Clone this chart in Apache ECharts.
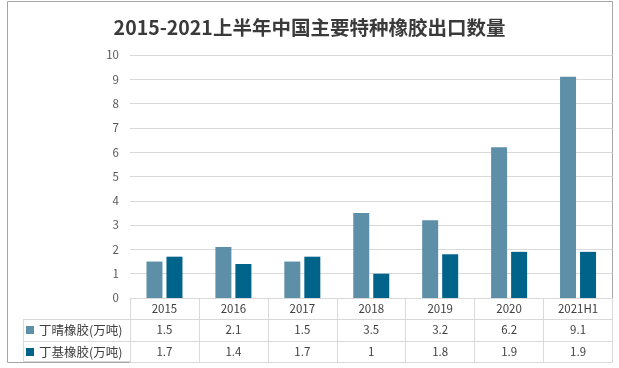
<!DOCTYPE html>
<html>
<head>
<meta charset="utf-8">
<script src="https://cdn.jsdelivr.net/npm/echarts@6/dist/echarts.min.js"></script>
<style>html,body{margin:0;padding:0;background:#fff;}#c{width:619px;height:368px;}</style>
</head>
<body>
<div id="c"></div>
<script>
var titleText = '2015-2021上半年中国主要特种橡胶出口数量';
var categories = ['2015','2016','2017','2018','2019','2020','2021H1'];
var nitrileName = '丁晴橡胶(万吨)';
var butylName = '丁基橡胶(万吨)';
var nitrile = [1.5, 2.1, 1.5, 3.5, 3.2, 6.2, 9.1];
var butyl = [1.7, 1.4, 1.7, 1, 1.8, 1.9, 1.9];
var yTicks = [0,1,2,3,4,5,6,7,8,9,10];

var FONT = 'Noto Sans CJK SC';
var LINE = '#d9d9d9';
var TXT = '#404040';
var C1 = '#5d90a8';
var C2 = '#006389';

var chart = echarts.init(document.getElementById('c'), null, {renderer:'canvas'});
var gridLeft = 130, gridRight = 6.5, gridTop = 55, gridBottom = 70;
var H = 368, W = 619;
var axisY = H - gridBottom;
var rowOff = [21, 43, 64];
var tableLeft = 23;

function rowAxis(data, off, showLabel){
  return {
    type:'category', data:data, position:'bottom', offset:off,
    axisLine:{show:true, lineStyle:{color:LINE, width:1}},
    axisTick:{show:false},
    axisLabel:{show:showLabel, interval:0, margin:5, color:TXT, fontSize:11.5, fontFamily:FONT},
    splitLine:{show:false}
  };
}

var option = {
  animation:false,
  backgroundColor:'#fff',
  title:{text:titleText, left:'center', top:18, padding:0,
    textStyle:{fontSize:19.5, fontWeight:'bold', color:'#3a3a3a', fontFamily:FONT}},
  legend:[
    {data:[nitrileName], left:26, top:axisY+rowOff[0]+4, padding:0, selectedMode:false, icon:'rect', itemWidth:8, itemHeight:8,
      textStyle:{fontSize:12.5, color:TXT, fontFamily:FONT, lineHeight:14}},
    {data:[butylName], left:26, top:axisY+rowOff[1]+4, padding:0, selectedMode:false, icon:'rect', itemWidth:8, itemHeight:8,
      textStyle:{fontSize:12.5, color:TXT, fontFamily:FONT, lineHeight:14}}
  ],
  grid:{left:gridLeft, right:gridRight, top:gridTop, bottom:gridBottom, containLabel:false},
  xAxis:[
    {type:'category', data:categories, position:'bottom',
      axisLine:{show:true, lineStyle:{color:LINE, width:1}},
      axisTick:{show:true, interval:0, length:rowOff[2], lineStyle:{color:LINE, width:1}},
      axisLabel:{interval:0, margin:5, color:TXT, fontSize:11.5, fontFamily:FONT},
      splitLine:{show:false}},
    rowAxis(nitrile.map(String), rowOff[0], true),
    rowAxis(butyl.map(String), rowOff[1], true),
    rowAxis(categories, rowOff[2], false)
  ],
  yAxis:{type:'value', min:yTicks[0], max:yTicks[yTicks.length-1], interval:1,
    axisLine:{show:false}, axisTick:{show:false},
    axisLabel:{color:'#595959', fontSize:11.5, margin:11, fontFamily:FONT},
    splitLine:{lineStyle:{color:LINE, width:1}}},
  series:[
    {name:nitrileName, type:'bar', data:nitrile, barWidth:16, barGap:'25%', itemStyle:{color:C1}},
    {name:butylName, type:'bar', data:butyl, barWidth:16, barGap:'25%', itemStyle:{color:C2}}
  ],
  graphic:[
    {type:'rect', silent:true, shape:{x:7.5, y:1.5, width:W-gridRight-7.5, height:axisY+rowOff[2]+0.5-1.5},
      style:{fill:null, stroke:'#a6a6a6', lineWidth:1}, z:-1},
    {type:'line', silent:true, shape:{x1:tableLeft+0.5, y1:axisY+rowOff[0], x2:tableLeft+0.5, y2:axisY+rowOff[2]}, style:{stroke:LINE, lineWidth:1}},
    {type:'line', silent:true, shape:{x1:tableLeft, y1:axisY+rowOff[0]+0.5, x2:gridLeft, y2:axisY+rowOff[0]+0.5}, style:{stroke:LINE, lineWidth:1}},
    {type:'line', silent:true, shape:{x1:tableLeft, y1:axisY+rowOff[1]+0.5, x2:gridLeft, y2:axisY+rowOff[1]+0.5}, style:{stroke:LINE, lineWidth:1}},
    {type:'line', silent:true, shape:{x1:tableLeft, y1:axisY+rowOff[2]-0.5, x2:gridLeft, y2:axisY+rowOff[2]-0.5}, style:{stroke:LINE, lineWidth:1}},
    {type:'line', silent:true, shape:{x1:gridLeft+0.5, y1:axisY+rowOff[0], x2:gridLeft+0.5, y2:axisY+rowOff[2]}, style:{stroke:LINE, lineWidth:1}}
  ]
};
chart.setOption(option);
</script>
</body>
</html>
